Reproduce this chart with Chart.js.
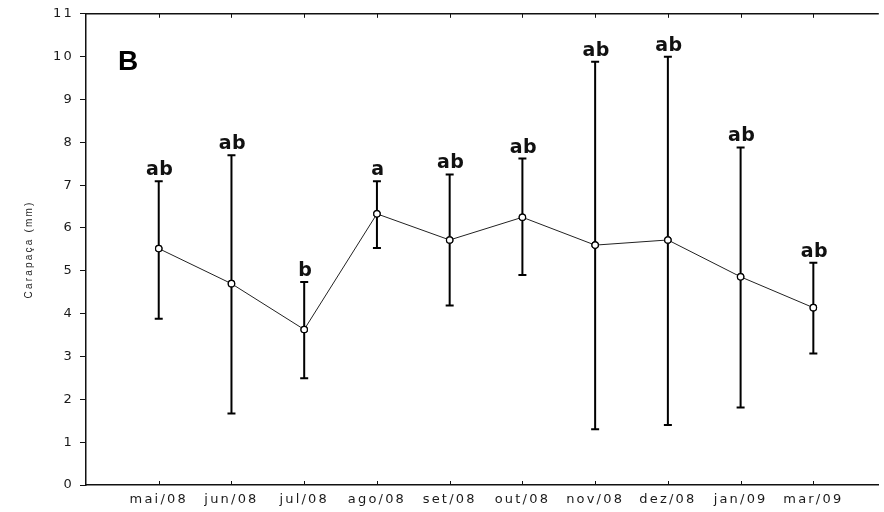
<!DOCTYPE html>
<html lang="pt-BR">
<head>
<meta charset="utf-8">
<title>Carapaça (mm)</title>
<script src="https://cdn.jsdelivr.net/npm/chart.js@4/dist/chart.umd.min.js"></script>
<style>
    html, body { margin: 0; padding: 0; background: #fff; }
    #grafico { display: block; }
</style>
</head>
<body>
<canvas id="grafico" width="884" height="512"></canvas>
<script>
// --- DADOS ---
const meses = ['mai/08', 'jun/08', 'jul/08', 'ago/08', 'set/08', 'out/08', 'nov/08', 'dez/08', 'jan/09', 'mar/09'];
const medias = [5.52, 4.70, 3.63, 6.33, 5.72, 6.25, 5.60, 5.72, 4.86, 4.14];
const limiteSuperior = [7.09, 7.70, 4.74, 7.09, 7.25, 7.62, 9.88, 10.00, 7.88, 5.19];
const limiteInferior = [3.88, 1.67, 2.49, 5.53, 4.19, 4.90, 1.30, 1.40, 1.81, 3.07];
const letras = ['ab', 'ab', 'b', 'a', 'ab', 'ab', 'ab', 'ab', 'ab', 'ab'];
const ticksY = [0, 1, 2, 3, 4, 5, 6, 7, 8, 9, 10, 11];

const corEixo = '#111';

// Barras de erro, marcas internas dos eixos e letras de significância
const pluginBarras = {
    id: 'barrasErro',
    beforeDraw(chart) {
        // rótulos dos eixos um pouco mais espaçados
        chart.ctx.letterSpacing = '2.2px';
    },
    afterDraw(chart) {
        const ctx = chart.ctx;
        const x = chart.scales.x;
        const y = chart.scales.y;
        const area = chart.chartArea;
        ctx.save();
        ctx.letterSpacing = '0px';

        // linha superior do quadro
        ctx.strokeStyle = corEixo;
        ctx.lineWidth = 1.5;
        ctx.beginPath();
        ctx.moveTo(area.left, area.top);
        ctx.lineTo(area.right, area.top);
        ctx.stroke();

        // marcas para dentro (em cima e embaixo)
        ctx.lineWidth = 1;
        meses.forEach((m, i) => {
            const px = Math.round(x.getPixelForValue(i)) + 0.5;
            ctx.beginPath();
            ctx.moveTo(px, area.top);
            ctx.lineTo(px, area.top + 4);
            ctx.moveTo(px, area.bottom);
            ctx.lineTo(px, area.bottom - 4);
            ctx.stroke();
        });

        // barras de erro
        ctx.lineWidth = 2;
        ctx.strokeStyle = '#000';
        meses.forEach((m, i) => {
            const px = x.getPixelForValue(i);
            const yTop = y.getPixelForValue(limiteSuperior[i]);
            const yBot = y.getPixelForValue(limiteInferior[i]);
            ctx.beginPath();
            ctx.moveTo(px, yTop);
            ctx.lineTo(px, yBot);
            ctx.moveTo(px - 4, yTop);
            ctx.lineTo(px + 4, yTop);
            ctx.moveTo(px - 4, yBot);
            ctx.lineTo(px + 4, yBot);
            ctx.stroke();
        });

        // redesenha os pontos por cima das barras
        const meta = chart.getDatasetMeta(0);
        meta.data.forEach(p => p.draw(ctx, area));

        // letras
        ctx.fillStyle = '#111';
        ctx.font = 'bold 19px "DejaVu Sans"';
        ctx.letterSpacing = '0.5px';
        ctx.textAlign = 'center';
        ctx.textBaseline = 'alphabetic';
        letras.forEach((l, i) => {
            const px = x.getPixelForValue(i);
            const yTop = y.getPixelForValue(limiteSuperior[i]);
            ctx.fillText(l, px + 1, yTop - 6);
        });

        // letra do painel
        ctx.letterSpacing = '0px';
        ctx.fillStyle = '#000';
        ctx.font = 'bold 28px "Liberation Sans"';
        ctx.textAlign = 'left';
        ctx.fillText('B', area.left + 32, 70);
        ctx.restore();
    }
};

new Chart(document.getElementById('grafico'), {
    type: 'line',
    data: {
        datasets: [{
            data: medias.map((v, i) => ({ x: i, y: v })),
            borderColor: '#222',
            borderWidth: 1,
            pointRadius: 3.2,
            pointBorderWidth: 1.2,
            pointBackgroundColor: '#fff',
            pointBorderColor: '#000',
            tension: 0
        }]
    },
    options: {
        responsive: false,
        animation: false,
        events: [],
        layout: { padding: { top: 13, right: 0, bottom: 0, left: 0 } },
        plugins: {
            legend: { display: false },
            tooltip: { enabled: false }
        },
        scales: {
            x: {
                type: 'linear',
                min: -1,
                max: 9.9,
                afterBuildTicks: (s) => { s.ticks = meses.map((m, i) => ({ value: i })); },
                afterFit: (s) => { s.height = 27; },
                grid: { display: false, drawTicks: false, tickLength: 0 },
                border: { color: corEixo, width: 1.5 },
                ticks: {
                    autoSkip: false,
                    maxRotation: 0,
                    padding: 7,
                    color: '#1a1a1a',
                    font: { family: '"DejaVu Sans"', size: 13 },
                    callback: (v) => meses[v] || ''
                }
            },
            y: {
                min: 0,
                max: 11,
                afterBuildTicks: (s) => { s.ticks = ticksY.map(v => ({ value: v })); },
                afterFit: (s) => { s.width = 86; },
                grid: { drawOnChartArea: false, drawTicks: true, tickLength: 6, color: corEixo },
                border: { color: corEixo, width: 1.5 },
                ticks: {
                    padding: 6,
                    color: '#1a1a1a',
                    font: { family: '"DejaVu Sans"', size: 13 }
                },
                title: {
                    display: true,
                    text: 'Carapaça (mm)',
                    color: '#222',
                    font: { family: '"Liberation Sans"', size: 10 },
                    padding: { top: 23, bottom: 0 }
                }
            }
        }
    },
    plugins: [pluginBarras]
});
</script>
</body>
</html>
